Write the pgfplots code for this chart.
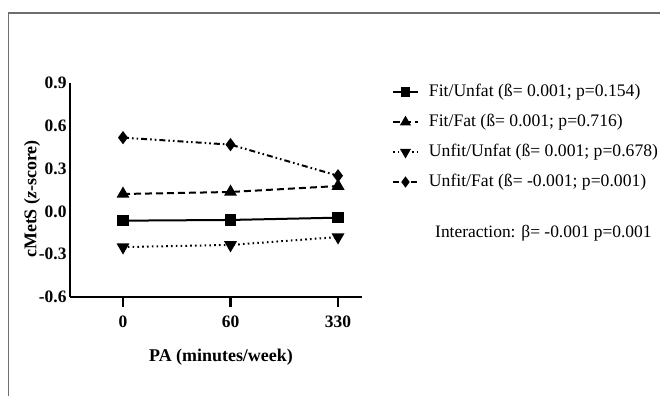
\documentclass[border=0pt]{standalone}
\usepackage{fontspec}
\setmainfont{Liberation Serif}
\usepackage{pgfplots}
\pgfplotsset{compat=1.18}
\definecolor{framegray}{RGB}{110,110,110}
\begin{document}
\begin{tikzpicture}
\useasboundingbox (0,0) rectangle (660bp,396bp);
\draw[line width=1.5bp, framegray] (8.5bp,0bp) -- (8.5bp,383bp) -- (660bp,383bp);
\begin{axis}[
  at={(70bp,99bp)}, anchor=south west,
  scale only axis, width=292bp, height=214bp,
  xmin=-0.493, xmax=2.223, ymin=-0.6, ymax=0.9,
  axis lines=left,
  axis line style={line width=2.2bp, -},
  xtick={0,1,2}, xticklabels={0,60,330},
  ytick={-0.6,-0.3,0,0.3,0.6,0.9},
  yticklabels={-0.6,-0.3,0.0,0.3,0.6,0.9},
  ticklabel style={font=\fontsize{17.5}{17.5}\selectfont\bfseries},
  tick align=outside, major tick length=10bp,
  xtick style={line width=2.2bp, black},
  ytick style={draw=none},
  yticklabel style={xshift=10bp},
  xticklabel style={yshift=-5bp},
  clip=false,
  legend cell align=left,
  legend style={at={(1.1027,0.995)}, anchor=north west, draw=none, fill=none,
    inner sep=0pt, outer sep=0pt,
    font=\fontsize{17.7}{17.7}\selectfont,
    row sep=14bp,
    nodes={inner sep=0pt, text height=12bp, text depth=4bp},
    /tikz/every odd column/.append style={column sep=10bp}},
  legend image code/.code={\draw[mark repeat=2,mark phase=2, every mark/.append style={scale=0.8}] plot coordinates {(0bp,0bp) (12.5bp,0bp) (25bp,0bp)};},
]
\addplot[black, line width=2bp, mark=square*, mark size=4.8bp, mark options={solid}]
  coordinates {(0,-0.065) (1,-0.060) (2,-0.044)};
\addlegendentry{Fit/Unfat (ß= 0.001; p=0.154)}
\addplot[black, line width=2bp, dash pattern=on 7bp off 4bp, mark=triangle*, mark size=5.5bp, mark options={solid}]
  coordinates {(0,0.122) (1,0.136) (2,0.178)};
\addlegendentry{Fit/Fat (ß= 0.001; p=0.716)}
\addplot[black, line width=2bp, dash pattern=on 1.6bp off 3.2bp, mark=triangle*, mark size=5.5bp, mark options={solid, rotate=180}]
  coordinates {(0,-0.25) (1,-0.235) (2,-0.18)};
\addlegendentry{Unfit/Unfat (ß= 0.001; p=0.678)}
\addplot[black, line width=2bp, dash pattern=on 6bp off 3bp on 1.6bp off 3bp on 1.6bp off 3bp, mark=diamond*, mark size=5bp, mark options={solid}]
  coordinates {(0,0.517) (1,0.468) (2,0.25)};
\addlegendentry{Unfit/Fat (ß= -0.001; p=0.001)}
\end{axis}
\node[anchor=west, inner sep=0pt, font=\fontsize{17.5}{17.5}\selectfont] at (435bp,163bp) {Interaction: β= -0.001 p=0.001};
\node[rotate=90, inner sep=0pt, font=\fontsize{18}{18}\selectfont\bfseries] at (32bp,197bp) {cMetS (\textit{z}-score)};
\node[inner sep=0pt, font=\fontsize{18}{18}\selectfont\bfseries] at (221bp,39bp) {PA (minutes/week)};
\end{tikzpicture}
\end{document}
